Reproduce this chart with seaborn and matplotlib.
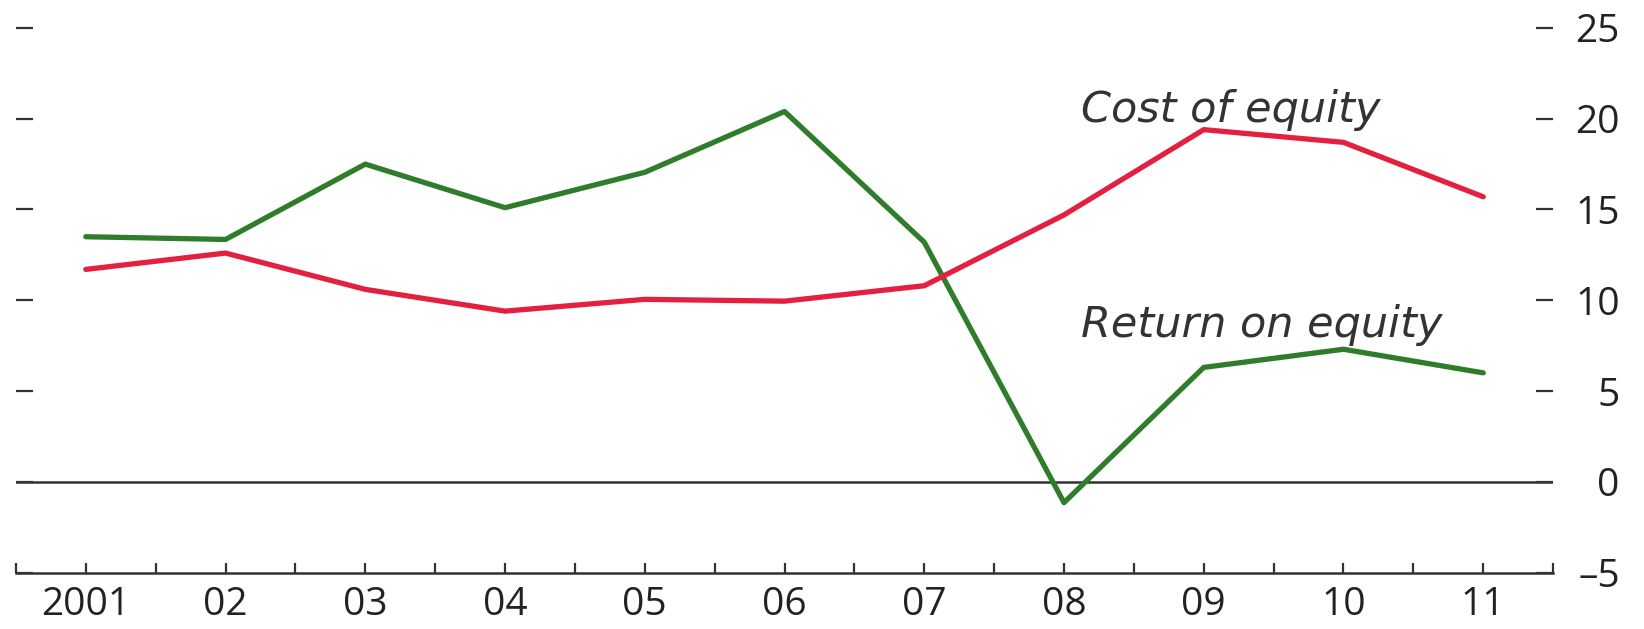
import seaborn as sns
import matplotlib.pyplot as plt
import pandas as pd

years = [2001, 2002, 2003, 2004, 2005, 2006, 2007, 2008, 2009, 2010, 2011]
year_labels = ['2001', '02', '03', '04', '05', '06', '07', '08', '09', '10', '11']
return_on_equity = [13.5, 13.35, 17.5, 15.1, 17.05, 20.4, 13.2, -1.15, 6.3, 7.3, 6.0]
cost_of_equity = [11.7, 12.6, 10.6, 9.4, 10.05, 9.95, 10.8, 14.7, 19.4, 18.7, 15.7]
y_ticks = [25, 20, 15, 10, 5, 0, -5]
y_labels = ['25', '20', '15', '10', '5', '0', '\u20135']

df = pd.DataFrame({
    'year': years * 2,
    'value': return_on_equity + cost_of_equity,
    'series': ['Return on equity'] * len(years) + ['Cost of equity'] * len(years),
})

sns.set_style('white')
plt.rcParams['font.family'] = ['Open Sans', 'DejaVu Sans']

fig = plt.figure(figsize=(16.44, 6.29), dpi=100)
ax = fig.add_axes([0.0097, 0.0898, 0.935, 0.8657])

colors = {'Return on equity': '#2f7d2b', 'Cost of equity': '#e3203f'}
sns.lineplot(data=df, x='year', y='value', hue='series', palette=colors,
             linewidth=3.8, legend=False, ax=ax)

ax.axhline(0, color='#333333', linewidth=1.8, zorder=1)

ax.set_xlim(2000.5, 2011.5)
ax.set_ylim(-5, 25)
ax.set_xlabel('')
ax.set_ylabel('')

for side in ['top', 'left', 'right']:
    ax.spines[side].set_visible(False)
ax.spines['bottom'].set_color('#333333')
ax.spines['bottom'].set_linewidth(1.8)

# x axis: years plus half-year minor ticks, pointing inward
ax.set_xticks(years)
ax.set_xticklabels(year_labels, fontsize=28, color='#222222', fontweight='medium')
ax.set_xticks([y - 0.5 for y in years] + [2011.5], minor=True)
ax.tick_params(axis='x', which='both', direction='in', length=7, width=1.6,
               color='#333333', bottom=True, pad=10)

# y ticks on both sides, labels only on the right
ax.set_yticks(y_ticks)
ax.set_yticklabels(y_labels, fontsize=28, color='#222222', fontweight='medium')
ax.tick_params(axis='y', which='major', direction='in', length=12, width=1.6,
               color='#333333', left=True, right=True,
               labelleft=False, labelright=True, pad=48)
for lab in ax.get_yticklabels():
    lab.set_horizontalalignment('right')

ax.text(2008.12, 19.8, 'Cost of equity', fontsize=31, style='italic',
        color='#333333', family='DejaVu Sans')
ax.text(2008.12, 7.95, 'Return on equity', fontsize=31, style='italic',
        color='#333333', family='DejaVu Sans')

fig.savefig('out.png', dpi=100)
